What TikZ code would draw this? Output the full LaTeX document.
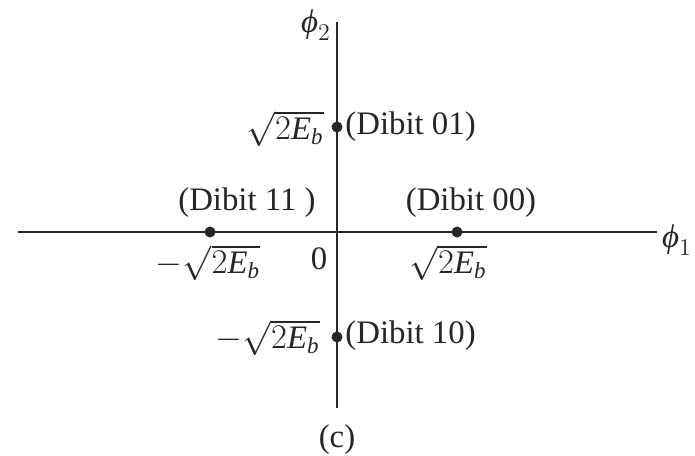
\documentclass[tikz,border=0pt]{standalone}
\usepackage{amsmath}
\usepackage{fontspec}
\setmainfont{Liberation Serif}
\newcommand{\EbTerm}{\sqrt{2\text{\itshape E}_{\text{\itshape b}}}}
\newcommand{\PhiSym}{\text{\itshape ϕ}}
\begin{document}
\begin{tikzpicture}[x=0.5pt,y=-0.5pt,
  axis/.style={line width=1.1pt,draw=black!85},
  dotpt/.style={circle,fill=black!85,inner sep=0pt,minimum size=5.5pt},
  lbl/.style={inner sep=0pt,font=\fontsize{16.4}{20}\selectfont,text=black!85}]
\useasboundingbox (0,0) rectangle (695,455);
\coordinate (L) at (18,232);
\coordinate (R) at (657,232);
\coordinate (T) at (337,22);
\coordinate (B) at (337,408);
\draw[axis] (L) -- (R);
\draw[axis] (T) -- (B);
\node[dotpt] (p01) at (337,127) {};
\node[dotpt] (p11) at (210,232) {};
\node[dotpt] (p00) at (457,232) {};
\node[dotpt] (p10) at (337,337) {};
\node[lbl] (phi2) at (316,25) {$\PhiSym_2$};
\node[lbl] (phi1) at (677,240) {$\PhiSym_1$};
\node[lbl,anchor=east] (a01) at (324,129) {$\EbTerm$};
\node[lbl,anchor=west] (d01) at (345,127) {(Dibit 01)};
\node[lbl] (d11) at (247,203) {(Dibit 11 )};
\node[lbl] (a11) at (208,263) {$-\EbTerm$};
\node[lbl] (zero) at (319,259) {0};
\node[lbl] (d00) at (471,203) {(Dibit 00)};
\node[lbl] (a00) at (448,263) {$\EbTerm$};
\node[lbl,anchor=east] (a10) at (320,338) {$-\EbTerm$};
\node[lbl,anchor=west] (d10) at (345,336) {(Dibit 10)};
\node[lbl] (cap) at (337,440) {(c)};
\end{tikzpicture}
\end{document}
